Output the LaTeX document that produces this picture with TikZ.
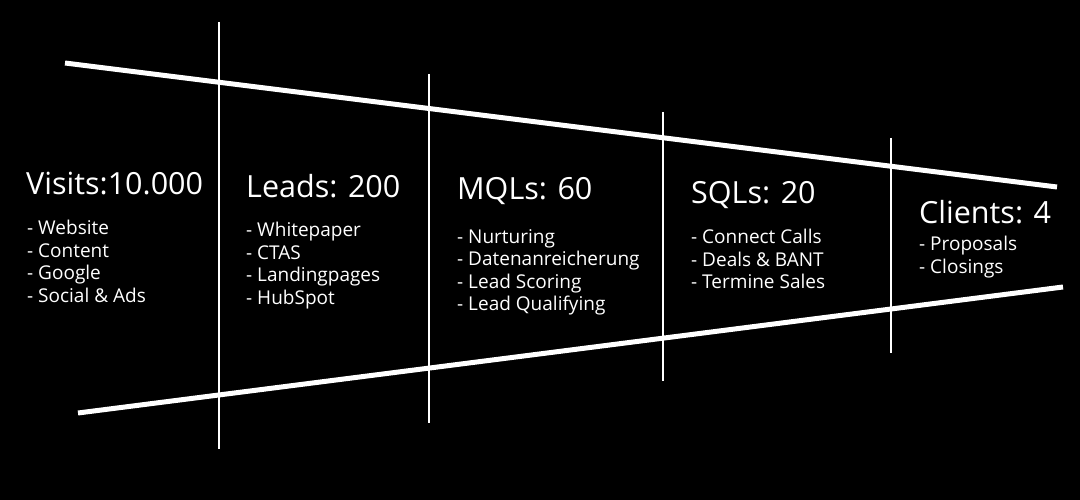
\documentclass[tikz,border=0pt]{standalone}
\usepackage{fontspec}
\setmainfont{Open Sans}
\begin{document}
\begin{tikzpicture}[x=1pt,y=-1pt,
  ttl/.style={anchor=west,inner sep=0pt,text=white,font=\fontsize{30.5}{34}\selectfont},
  itm/.style={anchor=north west,inner sep=0pt,text=white,align=left,font=\fontsize{19}{22.6}\selectfont},
  thick line/.style={white,line width=5pt},
  thin line/.style={white,line width=1.3pt}]
\fill[black] (0,0) rectangle (1080,500);
\useasboundingbox (0,0) rectangle (1080,500);
\draw[thick line] (65,63) -- (1057,187);
\draw[thick line] (78,413) -- (1063,287);
\draw[thin line] (219,22) -- (219,449);
\draw[thin line] (429,74) -- (429,423);
\draw[thin line] (663,112) -- (663,381);
\draw[thin line] (891,138) -- (891,353);
\node[ttl] (t1) at (26,184) {Visits:10.000};
\node[itm] (i1) at (27,220) {- Website\\- Content\\- Google\\- Social \& Ads};
\node[ttl] (t2) at (246,186) {Leads: 200};
\node[itm] (i2) at (246,222) {- Whitepaper\\- CTAS\\- Landingpages\\- HubSpot};
\node[ttl] (t3) at (457,191) {MQLs: 60};
\node[itm] (i3) at (457,229) {- Nurturing\\- Datenanreicherung\\- Lead Scoring\\- Lead Qualifying};
\node[ttl] (t4) at (691,195) {SQLs: 20};
\node[itm] (i4) at (691,229) {- Connect Calls\\- Deals \& BANT\\- Termine Sales};
\node[ttl] (t5) at (919,212) {Clients: 4};
\node[itm] (i5) at (919,236) {- Proposals\\- Closings};
\end{tikzpicture}
\end{document}
